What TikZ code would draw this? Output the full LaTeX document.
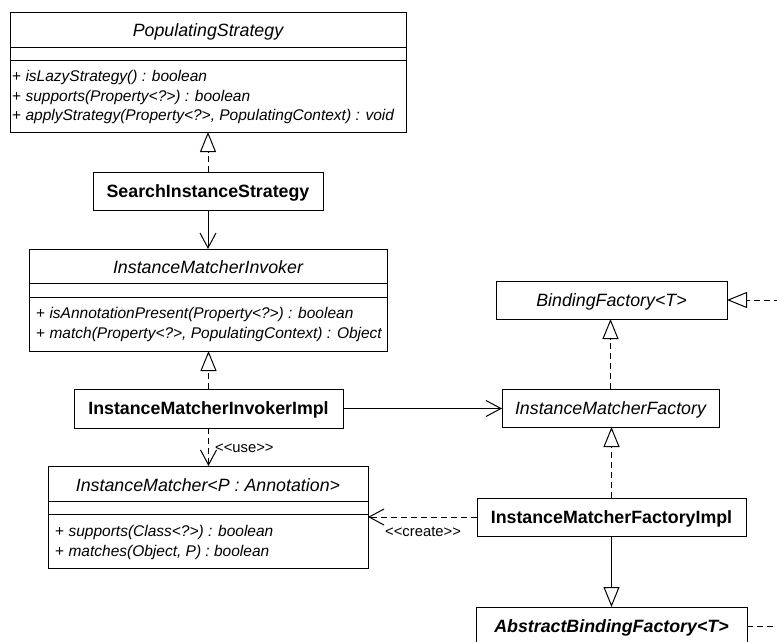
\documentclass[tikz,border=0pt]{standalone}
\usepackage{fontspec}
\setmainfont{Liberation Sans}
\usetikzlibrary{arrows.meta}
\begin{document}
\begin{tikzpicture}[x=1pt,y=-1pt,
  box/.style={draw, line width=1pt, outer sep=0pt, inner sep=0pt, fill=white},
  sbox/.style={box, text height=12pt, text depth=0pt},
  cname/.style={font=\fontsize{17.8}{20}\selectfont\itshape},
  cbold/.style={font=\fontsize{17.8}{20}\selectfont\bfseries},
  cbolditalic/.style={font=\fontsize{17.8}{20}\selectfont\bfseries\itshape},
  ctitle/.style={cname, anchor=base, inner sep=0pt},
  meth/.style={font=\fontsize{15.5}{18}\selectfont, anchor=base west, inner sep=0pt},
  lbl/.style={font=\fontsize{14.8}{17}\selectfont, anchor=base west, inner sep=0pt},
  sep/.style={line width=1pt},
  realize/.style={line width=1pt, dash pattern=on 6pt off 4pt, -{Triangle[open, length=20pt, width=16pt, line width=1pt]}},
  generalize/.style={line width=1pt, -{Triangle[open, length=20pt, width=16pt, line width=1pt]}},
  assoc/.style={line width=1pt, -{Straight Barb[length=15pt, width=16pt, line width=1pt]}},
  depend/.style={line width=1pt, dash pattern=on 6pt off 4pt, -{Straight Barb[length=15pt, width=16pt, line width=1pt]}},
  dline/.style={line width=1pt, dash pattern=on 6pt off 4pt}
]
\useasboundingbox (0,0) rectangle (777,641);
\fill[white] (0,0) rectangle (777,641);
\clip (0,0) rectangle (777,641);

% PopulatingStrategy
\node[box, anchor=north west, minimum width=396pt, minimum height=120pt] (ps) at (10,12) {};
\node[ctitle] (pst) at (208,36) {PopulatingStrategy};
\draw[sep] (ps.west |- 0,47) -- (ps.east |- 0,47);
\draw[sep] (ps.west |- 0,60) -- (ps.east |- 0,60);
\node[meth] (psm1) at (12,81) {+ \textit{isLazyStrategy() : boolean}};
\node[meth] (psm2) at (12,101) {+ \textit{supports(Property<?>) : boolean}};
\node[meth] (psm3) at (12,120.5) {+ \textit{applyStrategy(Property<?>, PopulatingContext) : void}};

% SearchInstanceStrategy
\node[sbox, cbold, anchor=north west, minimum width=230pt, minimum height=38pt] (sis) at (93,172) {SearchInstanceStrategy};

% InstanceMatcherInvoker
\node[box, anchor=north west, minimum width=358pt, minimum height=102pt] (imi) at (29,249) {};
\node[ctitle] (imit) at (208,273) {InstanceMatcherInvoker};
\draw[sep] (imi.west |- 0,283) -- (imi.east |- 0,283);
\draw[sep] (imi.west |- 0,297) -- (imi.east |- 0,297);
\node[meth] (imim1) at (36,318.5) {+ \textit{isAnnotationPresent(Property<?>) : boolean}};
\node[meth] (imim2) at (36,338.5) {+ \textit{match(Property<?>, PopulatingContext) : Object}};

% InstanceMatcherInvokerImpl
\node[sbox, cbold, anchor=north west, minimum width=269pt, minimum height=39pt] (imii) at (74,389) {InstanceMatcherInvokerImpl};

% InstanceMatcher
\node[box, anchor=north west, minimum width=320pt, minimum height=102pt] (im) at (48,466) {};
\node[ctitle] (imt) at (208,491) {InstanceMatcher<P : Annotation>};
\draw[sep] (im.west |- 0,501) -- (im.east |- 0,501);
\draw[sep] (im.west |- 0,514) -- (im.east |- 0,514);
\node[meth] (imm1) at (55,536.5) {+ \textit{supports(Class<?>) : boolean}};
\node[meth] (imm2) at (55,556.5) {+ \textit{matches(Object, P) : boolean}};

% Right column
\node[sbox, cname, anchor=north west, minimum width=231pt, minimum height=38pt] (bf) at (496,281) {BindingFactory<T>};
\node[sbox, cname, anchor=north west, minimum width=217pt, minimum height=38pt] (imf) at (502,389) {InstanceMatcherFactory};
\node[sbox, cbold, anchor=north west, minimum width=269pt, minimum height=38pt] (imfi) at (477,498) {InstanceMatcherFactoryImpl};
\node[sbox, cbolditalic, anchor=north west, minimum width=271pt, minimum height=38pt] (abf) at (476,607) {AbstractBindingFactory<T>};

\coordinate (bfext) at (790,300);
\coordinate (abfext) at (790,626);

% Connectors
\draw[realize] (sis.north) -- (sis.north |- ps.south);
\draw[assoc] (sis.south) -- (sis.south |- imi.north);
\draw[realize] (imii.north) -- (imii.north |- imi.south);
\draw[depend] (imii.south) -- (imii.south |- im.north);
\node[lbl] (uselbl) at (215,452) {<\kern0pt<use>\kern0pt>};
\draw[assoc] (imii.east) -- (imii.east -| imf.west);
\draw[realize] (imf.north) -- (imf.north |- bf.south);
\draw[realize] (imfi.north) -- (imfi.north |- imf.south);
\draw[depend] (imfi.west) -- (imfi.west -| im.east);
\node[lbl] (createlbl) at (385,536) {<\kern0pt<create>\kern0pt>};
\draw[generalize] (imfi.south) -- (imfi.south |- abf.north);
\draw[realize] (bfext) -- (bfext -| bf.east);
\draw[dline] (abf.east) -- (abfext);
\end{tikzpicture}
\end{document}
